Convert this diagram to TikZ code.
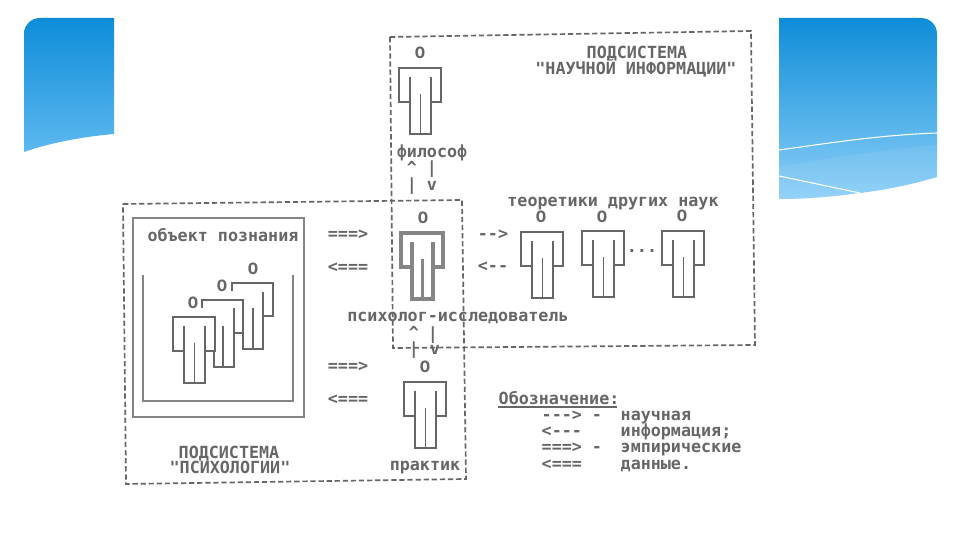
\documentclass[tikz,border=0pt]{standalone}
\usepackage{fontspec}
\setmonofont{DejaVu Sans Mono}
\newfontfamily\headfont{Liberation Mono}
\definecolor{skytop}{HTML}{0E8DD8}
\definecolor{skymid}{HTML}{5DB8F0}
\definecolor{skylow}{HTML}{8CCFF8}
\definecolor{ink}{HTML}{666666}
\definecolor{inklight}{HTML}{858585}
\tikzset{
  figline/.style={draw=ink, fill=white, line width=0.42pt},
  figthick/.style={draw=inklight, fill=white, line width=0.95pt},
  framebox/.style={draw=inklight, line width=0.65pt},
  dashbox/.style={draw=ink, line width=0.48pt, dash pattern=on 1.5pt off 0.8pt},
  label/.style={font=\ttfamily\bfseries\fontsize{4.75pt}{5.5pt}\selectfont, text=ink, inner sep=0pt, text height=3.4pt, text depth=0.8pt},
  labelw/.style={label, anchor=west},
  headlabel/.style={label, font=\headfont\bfseries\fontsize{4.9pt}{5.5pt}\selectfont}
}
% one standing figure, from the top left corner of its shoulders
\newcommand{\personfig}[3]{
  \path[#1] (#2,#3) -- (#2+42,#3) -- (#2+42,#3+34) -- (#2+32,#3+34) -- (#2+32,#3+66)
    -- (#2+11,#3+66) -- (#2+11,#3+34) -- (#2,#3+34) -- cycle;
  \path[#1] (#2+11,#3+9) -- (#2+11,#3+66) (#2+32,#3+9) -- (#2+32,#3+66);
  \path[#1] (#2+21.5,#3+26) -- (#2+21.5,#3+66);
}
\begin{document}
\begin{tikzpicture}[x=0.01cm, y=-0.01cm]
  \useasboundingbox (0,0) rectangle (960,540);
  \fill[white] (0,0) rectangle (960,540);

  % Blue corners of the slide
  \shade[top color=skytop, bottom color=skymid] (24,152) -- (24,34) .. controls (24,25) and (31,18) .. (40,18)
    -- (114,18) -- (114,134) .. controls (80,137) and (50,143) .. (24,152) -- cycle;
  \shade[top color=skytop, bottom color=skylow] (779,18) -- (921,18) .. controls (930,18) and (937,25) .. (937,34)
    -- (937,177) .. controls (910,185) and (885,190) .. (860,193) .. controls (830,197) and (805,199) .. (779,199) -- cycle;
  \fill[white, opacity=0.07] (779,167) .. controls (830,158) and (880,150) .. (937,145)
    -- (937,177) .. controls (910,185) and (885,190) .. (860,193) .. controls (830,197) and (805,199) .. (779,199) -- cycle;
  \draw[white, line width=0.3pt] (779,150) .. controls (830,143) and (880,135) .. (937,133);
  \draw[white, line width=0.3pt] (779,176) -- (860,193);

  % Subsystem frames
  \draw[dashbox] (390,37) -- (751,31) -- (755,345) -- (393,348) -- cycle;
  \draw[dashbox] (123,204) -- (462,200) -- (466,479) -- (126,484) -- cycle;

  % Object of study
  \draw[framebox] (133,218) rectangle (304,417);
  \draw[framebox] (143,275) -- (143,401) -- (293,401) -- (293,275);
  \draw[figline, fill=none] (232,291) -- (232,283) -- (273,283) -- (273,316) -- (263,316);
  \draw[figline, fill=none] (263,292) -- (263,349) -- (243,349) -- (243,332);
  \draw[figline, fill=none] (253,308) -- (253,349);
  \draw[figline, fill=none] (202,308) -- (202,300) -- (243,300) -- (243,333) -- (234,333);
  \draw[figline, fill=none] (234,308) -- (234,367) -- (214,367) -- (214,350);
  \draw[figline, fill=none] (223,326) -- (223,367);
  \personfig{figline}{173}{317}

  % Figures
  \foreach \px/\py in {399/68, 404/382, 521/232, 582/231, 662/231}{
    \personfig{figline}{\px}{\py}
  }
  \personfig{figthick}{401}{233}

  \foreach \hx/\hy [count=\i] in {420/54, 423/219, 425/368, 541/218, 602/218, 682/217, 253/270, 222/287, 193/304}{
    \node[headlabel] (head\i) at (\hx,\hy) {О};
  }

  \node[label] (sciTitleA) at (637,53.5) {ПОДСИСТЕМА};
  \node[label] (sciTitleB) at (636,69.5) {"НАУЧНОЙ ИНФОРМАЦИИ"};
  \node[label] (philosopher) at (432,153) {философ};
  \node[label] (others) at (613,202) {теоретики других наук};
  \node[label] (object) at (223,237) {объект познания};
  \node[label] (researcher) at (458,317) {психолог-исследователь};
  \node[label] (psyTitleA) at (229,453.5) {ПОДСИСТЕМА};
  \node[label] (psyTitleB) at (230,468.5) {"ПСИХОЛОГИИ"};
  \node[label] (practitioner) at (425,466) {практик};
  \node[label] (dots) at (642,248) {...};

  % Typed arrows between the figures
  \node[label] (upA) at (412,169) {\textasciicircum};
  \node[label] (upB) at (412,186) {|};
  \node[label] (downA) at (432,169) {|};
  \node[label] (downB) at (432,186) {v};
  \node[label] (upC) at (414,334) {\textasciicircum};
  \node[label] (upD) at (414,350) {|};
  \node[label] (downC) at (433,335) {|};
  \node[label] (downD) at (435,350) {v};
  \foreach \ax/\ay/\atext [count=\i] in {348/235/===>, 348/268/<===, 348/367/===>, 348/400/<===, 493/235/-->, 493/267/<--}{
    \node[label] (arrow\i) at (\ax,\ay) {\atext};
  }

  % Legend
  \node[labelw] (legend) at (498,400) {Обозначение:};
  \draw[ink, line width=0.4pt] (legend.south west) ++(0,-1) -- ++(119,0);
  \foreach \ly/\lkey/\ltext [count=\i] in {416/---> -/научная, 432/<---/информация;, 448/===> -/эмпирические, 465/<===/данные.}{
    \node[labelw] (key\i) at (541,\ly) {\lkey};
    \node[labelw] (meaning\i) at (620,\ly) {\ltext};
  }
\end{tikzpicture}
\end{document}
